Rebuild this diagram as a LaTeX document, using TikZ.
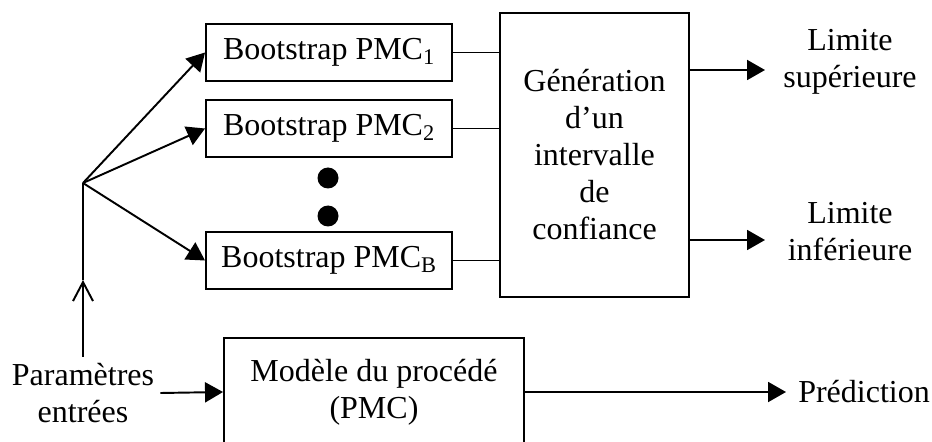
\documentclass[tikz,border=0pt]{standalone}
\usepackage{fontspec}
\setmainfont{Liberation Serif}
\usetikzlibrary{arrows.meta}
\begin{document}
\begin{tikzpicture}[x=0.75pt,y=-0.75pt,
  every node/.style={font=\fontsize{24}{27.75}\selectfont},
  blk/.style={draw, line width=1.45pt, inner sep=0pt, align=center},
  bootbox/.style={blk, minimum width=184.5pt, minimum height=42.75pt},
  lbl/.style={align=center, inner sep=0pt},
  conn/.style={line width=1.45pt},
  arr/.style={conn, -{Triangle[length=13.5pt,width=15pt]}},
  dotmark/.style={circle, fill, inner sep=0pt, minimum size=15.75pt}]
\useasboundingbox (0,0) rectangle (932,442);
\clip (0,0) rectangle (932,442);

% bootstrap replicas of the network
\node[bootbox] (b1) at (329,52.5) {Bootstrap PMC\textsubscript{1}};
\node[bootbox] (b2) at (329,128.5) {Bootstrap PMC\textsubscript{2}};
\node[bootbox] (bB) at (329,260.5) {Bootstrap PMC\textsubscript{B}};
\node[dotmark] (d1) at (328,178) {};
\node[dotmark] (d2) at (328,216) {};

% confidence interval block
\node[blk, minimum width=141.75pt, minimum height=213pt] (gen) at (594.5,155)
  {Génération\\d’un\\intervalle\\de\\confiance};

% process model (bottom edge runs off the page)
\node[blk, minimum width=225pt, minimum height=81pt] (model) at (374,392)
  {Modèle du procédé\\(PMC)};

% labels
\node[lbl, inner sep=4.5pt] (param) at (83,393) {Paramètres\\entrées};
\node[lbl] (sup) at (850,62) {Limite\\supérieure};
\node[lbl] (inf) at (850,232) {Limite\\inférieure};
\node[lbl, anchor=west, inner xsep=9pt] (pred) at (786,392) {Prédiction};

\coordinate (fan) at (83,183);
\coordinate (up) at (83,280);
\coordinate (supin) at (765,70);
\coordinate (infin) at (765,240);

% inputs fanned out to the replicas
\draw[conn, -{Straight Barb[length=14.25pt,width=15pt]}] (param.north) -- (up);
\draw[conn] (up) -- (fan);
\draw[arr] (fan) -- (b1.west);
\draw[arr] (fan) -- (b2.west);
\draw[arr] (fan) -- (bB.west);

% replicas into the interval block
\draw[conn] (b1.east) -- (b1.east -| gen.west);
\draw[conn] (b2.east) -- (b2.east -| gen.west);
\draw[conn] (bB.east) -- (bB.east -| gen.west);

% outputs
\draw[arr] (gen.east |- supin) -- (supin);
\draw[arr] (gen.east |- infin) -- (infin);
\draw[arr] (param.east) -- (model.west);
\draw[arr] (model.east) -- (pred.west);
\end{tikzpicture}
\end{document}
